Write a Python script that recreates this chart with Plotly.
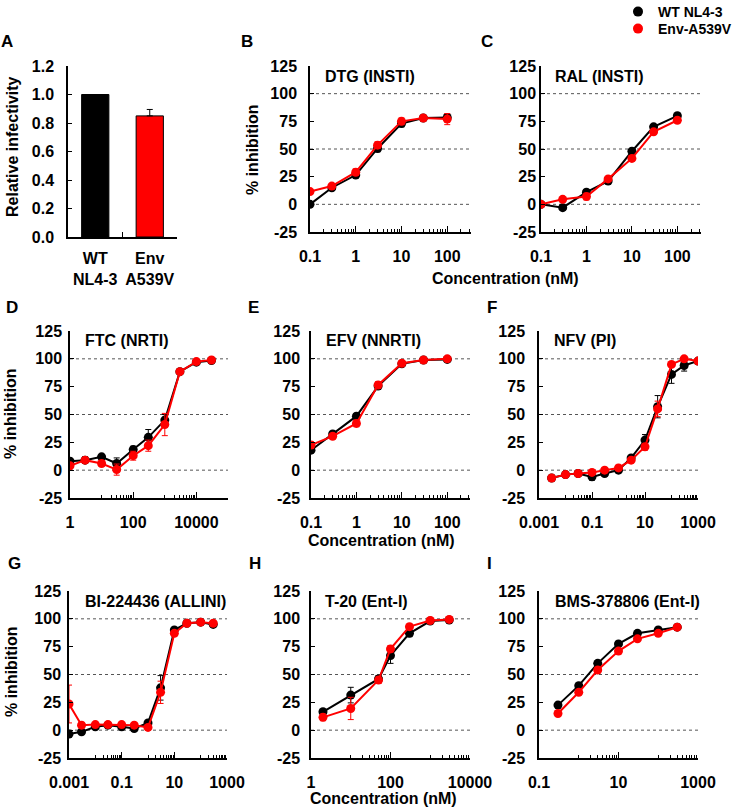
import math
import plotly.graph_objects as go

W, H = 733, 810
FONT = "Liberation Sans, Arial, sans-serif"
BLACK = "#000000"
RED = "#ff0000"

SERIES_NAMES = ["WT NL4-3", "Env-A539V"]

# ---- Panel A ----
A_CATS = ["WT<br>NL4-3", "Env<br>A539V"]
A_VALUES = [1.0, 0.85]
A_ERR = [0.0, 0.045]
A_YTICKS = [0.0, 0.2, 0.4, 0.6, 0.8, 1.0, 1.2]

# ---- dose-response panels ----
Y_TICKS = [-25, 0, 25, 50, 75, 100, 125]
Y_TICK_TEXT = ["-25", "0", "25", "50", "75", "100", "125"]
Y_GRID = [0, 50, 100]

B_CONC = [0.1, 0.3, 1, 3, 10, 30, 100]
B_WT = [0, 15, 26.5, 50.5, 73, 78, 78.5]
B_WT_ERR = [1, 2, 2, 3, 3, 2, 3]
B_MUT = [11.5, 16.5, 29, 53.5, 75, 78, 77]
B_MUT_ERR = [1, 2, 3, 3, 3, 2, 5]

C_CONC = [0.1, 0.3, 1, 3, 10, 30, 100]
C_WT = [0, -3, 11, 21, 48, 70, 80]
C_WT_ERR = [1, 1, 2, 2, 2, 2, 2]
C_MUT = [0, 4.5, 7, 23, 41.5, 65.5, 76]
C_MUT_ERR = [1, 2, 3, 2, 2, 2, 2]

D_CONC = [1, 3, 10, 30, 100, 300, 1000, 3000, 10000, 30000]
D_WT = [8, 9, 12, 6, 18.5, 29.5, 45, 88.5, 97, 98.5]
D_WT_ERR = [2, 3, 2, 5, 3, 7, 5, 2, 2, 1]
D_MUT = [4, 9, 6, 0.5, 13, 22, 41, 88.5, 97.5, 99]
D_MUT_ERR = [2, 2, 2, 5, 4, 5, 10, 2, 1, 1]

E_CONC = [0.1, 0.3, 1, 3, 10, 30, 100]
E_WT = [18, 32.5, 48.5, 75.5, 95.5, 99, 99.5]
E_WT_ERR = [2, 2, 2, 3, 2, 1, 1]
E_MUT = [22.5, 30.5, 42, 76.5, 96, 99, 100]
E_MUT_ERR = [3, 2, 3, 3, 2, 1, 1]

F_CONC = [0.003, 0.01, 0.03, 0.1, 0.3, 1, 3, 10, 30, 100, 300, 1000]
F_WT = [-7, -4, -3, -6, -3, 0, 11, 27, 57, 86, 94, 98]
F_WT_ERR = [1, 1, 1, 3, 2, 1, 2, 5, 10, 8, 5, 2]
F_MUT = [-7, -4, -3, -2, 0, 2, 9, 21, 55, 95, 100, 98]
F_MUT_ERR = [1, 1, 1, 1, 1, 1, 2, 3, 7, 2, 2, 1]

G_CONC = [0.001, 0.003, 0.01, 0.03, 0.1, 0.3, 1, 3, 10, 30, 100, 300]
G_WT = [-3.5, -1.5, 3, 4.5, 3, 1.5, 6.5, 38, 90, 96, 97, 95]
G_WT_ERR = [1, 1, 1, 1, 1, 1, 2, 11, 2, 1, 1, 1]
G_MUT = [23.5, 4.5, 5, 5, 5, 4.5, 2.5, 34, 87, 96, 97, 96]
G_MUT_ERR = [17, 2, 1, 1, 1, 1, 1, 10, 2, 1, 1, 1]

H_CONC = [2, 10, 50, 100, 300, 1000, 3000]
H_WT = [16.5, 31.5, 46, 67, 87, 98, 99]
H_WT_ERR = [2, 7, 3, 7, 3, 1, 1]
H_MUT = [11.5, 19.5, 45, 73, 93, 98.5, 99.5]
H_MUT_ERR = [3, 10, 3, 3, 2, 1, 1]

I_CONC = [0.3, 1, 3, 10, 30, 100, 300]
I_WT = [22.5, 40, 60, 77.5, 87, 90, 92.5]
I_WT_ERR = [1, 1, 2, 2, 1, 1, 1]
I_MUT = [15, 34, 54, 71, 82, 87, 92.5]
I_MUT_ERR = [1, 2, 2, 2, 1, 1, 1]

TICKS_B = [0.1, 1, 10, 100]
TICKS_B_TEXT = ["0.1", "1", "10", "100"]
TICKS_D = [1, 100, 10000]
TICKS_D_TEXT = ["1", "100", "10000"]
TICKS_F = [0.001, 0.1, 10, 1000]
TICKS_F_TEXT = ["0.001", "0.1", "10", "1000"]
TICKS_I = [0.1, 10, 1000]
TICKS_I_TEXT = ["0.1", "10", "1000"]


def minor_vals(lo, hi, base100=False, e0=0):
    vals = []
    for k in range(math.floor(lo) - 1, math.ceil(hi) + 1):
        if base100:
            if (k - e0) % 2 == 0:
                continue
            ms = range(1, 10)
        else:
            ms = range(2, 10)
        for m in ms:
            v = m * 10 ** k
            lv = math.log10(v)
            if lo - 1e-9 <= lv <= hi + 1e-9:
                vals.append(v)
    return vals


def dom(px0, px1, top, bot):
    return [px0 / W, px1 / W], [1 - bot / H, 1 - top / H]


PANELS = [
    (2, "B", B_CONC, B_WT, B_WT_ERR, B_MUT, B_MUT_ERR, "DTG (INSTI)", [-1, 2.52], TICKS_B, TICKS_B_TEXT, False, 0, (310, 471, 66, 232), 8),
    (3, "C", C_CONC, C_WT, C_WT_ERR, C_MUT, C_MUT_ERR, "RAL (INSTI)", [-1, 2.52], TICKS_B, TICKS_B_TEXT, False, 0, (541, 701, 66, 232), 0),
    (4, "D", D_CONC, D_WT, D_WT_ERR, D_MUT, D_MUT_ERR, "FTC (NRTI)", [0, 5], TICKS_D, TICKS_D_TEXT, True, 0, (70, 228, 331, 498), 3),
    (5, "E", E_CONC, E_WT, E_WT_ERR, E_MUT, E_MUT_ERR, "EFV (NNRTI)", [-1, 2.5], TICKS_B, TICKS_B_TEXT, False, 0, (311, 470, 331, 498), 6),
    (6, "F", F_CONC, F_WT, F_WT_ERR, F_MUT, F_MUT_ERR, "NFV (PI)", [-3, 3], TICKS_F, TICKS_F_TEXT, True, -3, (539, 698, 331, 498), 9),
    (7, "G", G_CONC, G_WT, G_WT_ERR, G_MUT, G_MUT_ERR, "BI-224436 (ALLINI)", [-3, 3], TICKS_F, TICKS_F_TEXT, True, -3, (69, 227, 591, 758), 3),
    (8, "H", H_CONC, H_WT, H_WT_ERR, H_MUT, H_MUT_ERR, "T-20 (Ent-I)", [0, 4], TICKS_D, TICKS_D_TEXT, True, 0, (311, 470, 591, 758), 6),
    (9, "I", I_CONC, I_WT, I_WT_ERR, I_MUT, I_MUT_ERR, "BMS-378806 (Ent-I)", [-1, 3], TICKS_I, TICKS_I_TEXT, True, -1, (539, 698, 591, 758), 9),
]

fig = go.Figure()
tickfont = dict(family=FONT, size=16, color="black", weight="bold")
layout = {}
annotations = []
shapes = []


def ann(text, px, py, xanchor="center", size=16, angle=0):
    annotations.append(dict(text=text, x=px / W, y=1 - py / H, xref="paper", yref="paper",
                            xanchor=xanchor, yanchor="middle", showarrow=False, textangle=angle,
                            font=dict(family=FONT, size=size, color="black", weight="bold")))


# Panel A
xd, yd = dom(68, 177, 66, 237)
fig.add_trace(go.Bar(x=A_CATS, y=A_VALUES, width=0.5,
                     marker=dict(color=[BLACK, RED], line=dict(color="black", width=1)),
                     error_y=dict(type="data", symmetric=False, array=A_ERR, arrayminus=[0, 0],
                                  color="black", thickness=1, width=3),
                     showlegend=False, xaxis="x", yaxis="y"))
layout["xaxis"] = dict(domain=xd, anchor="y", type="category", range=[-0.5, 1.5],
                       showline=True, linecolor="black", linewidth=1.5, ticks="inside",
                       tickson="boundaries", ticklen=5, tickcolor="black", tickfont=tickfont,
                       tickangle=0, showgrid=False, zeroline=False, ticklabelstandoff=6)
layout["yaxis"] = dict(domain=yd, anchor="x", range=[0, 1.2], tickvals=A_YTICKS, tickformat=".1f",
                       showline=True, linecolor="black", linewidth=1.5, ticks="inside", ticklen=4,
                       tickcolor="black", tickfont=tickfont, showgrid=False, zeroline=False,
                       ticklabelstandoff=9)
ann("A", 7, 42, size=17)
ann("Relative infectivity", 12, 147, angle=-90)

for (n, letter, conc, wt, wterr, mut, muterr, title, xr, tv, tt, b100, e0, box, ystand) in PANELS:
    xd, yd = dom(*box)
    xa, ya = f"x{n}", f"y{n}"
    for vals, errs, col in ((wt, wterr, BLACK), (mut, muterr, RED)):
        fig.add_trace(go.Scatter(x=conc, y=vals, mode="lines+markers",
                                 line=dict(color=col, width=2),
                                 marker=dict(color=col, size=9),
                                 error_y=dict(type="data", array=errs, color=col, thickness=1, width=3),
                                 showlegend=False, xaxis=xa, yaxis=ya))
    layout[f"xaxis{n}"] = dict(domain=xd, anchor=ya, type="log", range=xr, tickmode="array",
                               tickvals=tv, ticktext=tt, showline=True, linecolor="black", linewidth=1.5,
                               ticks="inside", ticklen=6, tickcolor="black", tickfont=tickfont,
                               showgrid=False, zeroline=False, ticklabelstandoff=9,
                               minor=dict(tickmode="array", tickvals=minor_vals(xr[0], xr[1], b100, e0),
                                          ticks="inside", ticklen=3, tickcolor="black", showgrid=False))
    layout[f"yaxis{n}"] = dict(domain=yd, anchor=xa, range=[-25, 125], tickmode="array",
                               tickvals=Y_TICKS, ticktext=Y_TICK_TEXT,
                               showline=True, linecolor="black", linewidth=1.5, ticks="inside", ticklen=4,
                               tickcolor="black", tickfont=tickfont, showgrid=False, zeroline=False,
                               ticklabelstandoff=ystand)
    for g in Y_GRID:
        shapes.append(dict(type="line", xref=f"{xa} domain", x0=0, x1=1, yref=ya, y0=g, y1=g,
                           line=dict(color="#555555", width=1, dash="dot"), layer="below"))

# legend traces
for i, (nm, col) in enumerate(zip(SERIES_NAMES, [BLACK, RED])):
    fig.add_trace(go.Scatter(x=[None], y=[None], mode="markers", name=nm,
                             marker=dict(color=col, size=10), xaxis="x2", yaxis="y2",
                             legend="legend" if i == 0 else "legend2"))

LETTER_POS = {"B": (247, 42), "C": (487, 42), "D": (12, 308), "E": (253, 308), "F": (492, 308),
              "G": (14, 563), "H": (255, 563), "I": (489, 563)}
TITLE_POS = {"B": (323, 76), "C": (553, 76), "D": (83, 341), "E": (324, 341), "F": (552, 341),
             "G": (83, 601), "H": (323, 601), "I": (553, 601)}
for p in PANELS:
    letter, title = p[1], p[7]
    ann(letter, *LETTER_POS[letter], size=17)
    ann(title, *TITLE_POS[letter], xanchor="left")

ann("% inhibition", 253, 150, angle=-90)
ann("% inhibition", 11, 414, angle=-90)
ann("% inhibition", 11, 672, angle=-90)
ann("Concentration (nM)", 505, 278)
ann("Concentration (nM)", 381, 540)
ann("Concentration (nM)", 383, 798)

legfont = dict(family=FONT, size=14, color="black", weight="bold")
fig.update_layout(
    width=W, height=H, margin=dict(l=0, r=0, t=0, b=0, pad=0, autoexpand=False),
    paper_bgcolor="white", plot_bgcolor="white",
    font=dict(family=FONT, size=16, color="black", weight="bold"),
    annotations=annotations, shapes=shapes,
    legend=dict(x=618 / W, y=1 - 12 / H, xanchor="left", yanchor="middle", bgcolor="rgba(0,0,0,0)",
                font=legfont, borderwidth=0, tracegroupgap=0),
    legend2=dict(x=618 / W, y=1 - 29 / H, xanchor="left", yanchor="middle", bgcolor="rgba(0,0,0,0)",
                 font=legfont, borderwidth=0, tracegroupgap=0),
    **layout,
)

fig.write_html("out.html", config={"displayModeBar": False},
               post_script="document.body.style.margin='0px';document.body.style.overflow='hidden';")
